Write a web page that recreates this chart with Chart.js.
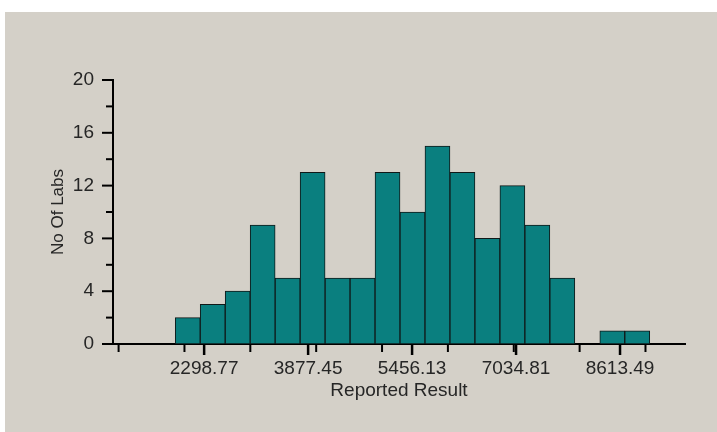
<!DOCTYPE html>
<html>
<head>
<meta charset="utf-8">
<script src="https://cdn.jsdelivr.net/npm/chart.js@4.4.1/dist/chart.umd.min.js"></script>
<style>
    body { margin: 0; background: #ffffff; }
    #panel {
        position: absolute;
        left: 5px;
        top: 12px;
        width: 712px;
        height: 420px;
        background: #d4d0c8;
    }
</style>
</head>
<body>
<div id="panel"><canvas id="chart" width="712" height="420"></canvas></div>
<script>
// Histogram bins (bin centre of each reported result class) and lab counts
const binCenters = [2049.6, 2428.8, 2808.0, 3187.2, 3566.4, 3945.6, 4324.8, 4704.0, 5083.2, 5462.4,
    5841.6, 6220.8, 6600.0, 6979.2, 7358.4, 7737.6, 8116.8, 8496.0, 8875.2];
const labCounts = [2, 3, 4, 9, 5, 13, 5, 5, 13, 10, 15, 13, 8, 12, 9, 5, 0, 1, 1];

// Axis ticks
const xLabelTicks = [2298.77, 3877.45, 5456.13, 7034.81, 8613.49];
const xMinorTicks = [1000, 2000, 3000, 4000, 5000, 6000, 7000, 8000, 9000];
const yLabelTicks = [0, 4, 8, 12, 16, 20];
const yMinorTicks = [2, 6, 10, 14, 18];

const textColor = "#262626";
const fontFamily = "Liberation Sans, Arial, sans-serif";

// Draws the outward tick marks on both axes (long for labelled, short for minor)
const tickMarks = {
    id: "tickMarks",
    afterDraw(chart) {
        const ctx = chart.ctx;
        const x = chart.scales.x;
        const y = chart.scales.y;
        const axisY = chart.chartArea.bottom;
        const axisX = chart.chartArea.left;
        ctx.save();
        ctx.strokeStyle = "#000000";

        const vTick = (value, len, width) => {
            const px = x.getPixelForValue(value);
            ctx.lineWidth = width;
            ctx.beginPath();
            ctx.moveTo(px, axisY);
            ctx.lineTo(px, axisY + len);
            ctx.stroke();
        };
        const hTick = (value, len, width) => {
            const py = y.getPixelForValue(value);
            ctx.lineWidth = width;
            ctx.beginPath();
            ctx.moveTo(axisX, py);
            ctx.lineTo(axisX - len, py);
            ctx.stroke();
        };

        xMinorTicks.forEach(v => vTick(v, 8, 2));
        xLabelTicks.forEach(v => vTick(v, 11, 2.5));
        yMinorTicks.forEach(v => hTick(v, 7, 2));
        yLabelTicks.forEach(v => hTick(v, 11, 2));
        ctx.restore();
    }
};

function createChart() {
    const ctx = document.querySelector("#chart").getContext("2d");

    new Chart(ctx, {
        type: "bar",
        data: {
            datasets: [{
                label: "No Of Labs",
                data: binCenters.map((c, i) => ({ x: c, y: labCounts[i] })),
                backgroundColor: "#0a7f7f",
                borderColor: "#101818",
                borderWidth: 1,
                borderSkipped: false,
                barPercentage: 1,
                categoryPercentage: 1
            }]
        },
        options: {
            responsive: false,
            animation: false,
            layout: {
                padding: { top: 68, right: 32, left: 0, bottom: 0 }
            },
            plugins: {
                legend: { display: false },
                tooltip: { enabled: false }
            },
            scales: {
                x: {
                    type: "linear",
                    min: 915,
                    max: 9600,
                    offset: false,
                    grid: { display: false, drawTicks: false },
                    border: { display: true, color: "#000000", width: 2 },
                    afterBuildTicks: scale => {
                        scale.ticks = xLabelTicks.map(v => ({ value: v }));
                    },
                    afterFit: scale => { scale.height = 88; },
                    ticks: {
                        autoSkip: false,
                        maxRotation: 0,
                        padding: 13,
                        color: textColor,
                        font: { family: fontFamily, size: 19 },
                        callback: value => value.toFixed(2)
                    },
                    title: {
                        display: true,
                        text: "Reported Result",
                        color: textColor,
                        padding: { top: 0, bottom: 30 },
                        font: { family: fontFamily, size: 19 }
                    }
                },
                y: {
                    min: 0,
                    max: 20,
                    grid: { display: false, drawTicks: false },
                    border: { display: true, color: "#000000", width: 2 },
                    afterBuildTicks: scale => {
                        scale.ticks = yLabelTicks.map(v => ({ value: v }));
                    },
                    afterFit: scale => { scale.width = 108; },
                    ticks: {
                        padding: 19,
                        color: textColor,
                        font: { family: fontFamily, size: 19 }
                    },
                    title: {
                        display: true,
                        text: "No Of Labs",
                        color: textColor,
                        padding: { top: 43, bottom: 0 },
                        font: { family: fontFamily, size: 17 }
                    }
                }
            }
        },
        plugins: [tickMarks]
    });
}

createChart();
</script>
</body>
</html>
